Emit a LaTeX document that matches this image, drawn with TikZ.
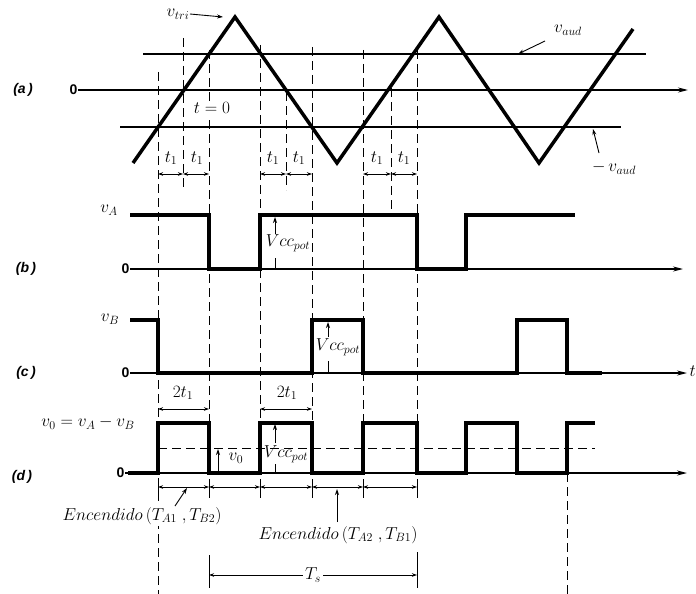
\documentclass[tikz,border=0pt]{standalone}
\usepackage{fontspec}
\setsansfont{Liberation Sans}
\DeclareMathSizes{16}{16}{12}{9}
\usetikzlibrary{arrows.meta}
\begin{document}
\begin{tikzpicture}[x=1pt,y=-1pt,
  sig/.style={line width=3.2pt, line join=miter},
  tri/.style={line width=3.5pt, line join=miter},
  thinln/.style={line width=1.3pt},
  axis/.style={line width=1.5pt, -{Stealth[length=10pt,width=5pt]}},
  guide/.style={line width=0.9pt, dash pattern=on 9pt off 5pt},
  dim/.style={line width=0.9pt, {Stealth[length=5pt,width=3.5pt]}-{Stealth[length=5pt,width=3.5pt]}},
  uparr/.style={line width=0.9pt, -{Stealth[length=6pt,width=4pt]}},
  tick/.style={line width=0.9pt},
  lbl/.style={inner sep=0.5pt, font=\fontsize{16}{18}\selectfont},
  panel/.style={inner sep=0pt, font=\sffamily\bfseries\itshape\fontsize{14}{16}\selectfont},
  zero/.style={inner sep=0.5pt, font=\sffamily\bfseries\fontsize{14}{16}\selectfont}
]
\useasboundingbox (0,0) rectangle (696,594);

% ---------- vertical dashed guides ----------
\foreach \x/\a/\b in {158/72/594, 183/38/190, 209/50/423, 260/45/423, 286/92/190,
                      312/47/423, 363/50/423, 391/88/213, 417/50/423, 567/473/594}
  \draw[guide] (\x,\a) -- (\x,\b);

% ---------- (a) ----------
\node[panel] (pa) at (23,90) {(a\,)};
\node[zero, anchor=east] (za) at (78,90) {0};
\draw[axis] (za.east) -- (688,90);
\draw[thinln] (143,54) -- (646,54);
\draw[thinln] (120,127) -- (621,127);
\draw[tri] (133,163) -- (235,17) -- (337,163) -- (439,17) -- (539,163) -- (633,29);

\node[lbl] (vtri) at (178,14) {$v_{tri}$};
\coordinate (peak1) at (223,17);
\draw[uparr] (vtri.east) -- (peak1);

\node[lbl] (vaud) at (568,30) {$v_{aud}$};
\coordinate (vaudS) at (545,41);
\coordinate (vaudT) at (518,54);
\draw[uparr] (vaudS) -- (vaudT);

\node[lbl] (mvaud) at (614,168) {$-\,v_{aud}$};
\coordinate (mvS) at (599,153);
\coordinate (mvT) at (593,129);
\draw[uparr] (mvS) -- (mvT);

\node[lbl, fill=white, inner sep=1pt] (tz) at (212,108) {$t=0$};

\foreach \x [count=\i] in {171,197,273,299,377,404}
  \node[lbl] (tone\i) at (\x,158) {$t_1$};
\foreach \p/\q in {158/183,183/209,260/286,286/312,363/391,391/417}
  \draw[dim] (\p,174) -- (\q,174);

% ---------- (b) ----------
\node[panel] (pb) at (26,269) {(b\,)};
\node[zero, anchor=east] (zb) at (130,269) {0};
\draw[axis] (zb.east) -- (683,269);
\node[lbl] (vA) at (109,210) {$v_A$};
\draw[sig] (130,215) -- (209,215) -- (209,269) -- (260,269) -- (260,215) -- (417,215)
  -- (417,269) -- (466,269) -- (466,215) -- (575,215);
\node[lbl] (vccb) at (288,243) {$Vcc_{pot}$};
\coordinate (vbS) at (275,234);
\coordinate (vbT) at (275,217);
\draw[uparr] (vbS) -- (vbT);
\draw[tick] (275,258) -- (275,269);

% ---------- (c) ----------
\node[panel] (pc) at (26,373) {(c\,)};
\node[zero, anchor=east] (zc) at (130,373) {0};
\draw[axis] (zc.east) -- (687,373);
\node[lbl, anchor=west] (tc) at (689,371) {$t$};
\node[lbl] (vB) at (110,319) {$v_B$};
\draw[sig] (130,320) -- (158,320) -- (158,373) -- (312,373) -- (312,320) -- (363,320)
  -- (363,373) -- (517,373) -- (517,320) -- (567,320) -- (567,373) -- (602,373);
\node[lbl] (vccc) at (338,347) {$Vcc_{pot}$};
\coordinate (vcS) at (328,337);
\coordinate (vcT) at (328,322);
\draw[uparr] (vcS) -- (vcT);
\draw[tick] (328,361) -- (328,373);

% ---------- (d) ----------
\node[lbl] (veq) at (88,423) {$v_0=v_A-v_B$};
\node[panel] (pd) at (22,477) {(d\,)};
\node[zero, anchor=east] (zd) at (125,473) {0};
\draw[axis] (zd.east) -- (687,473);
\draw[guide] (158,448) -- (595,448);
\draw[sig] (128,473) -- (158,473) -- (158,423) -- (209,423) -- (209,473) -- (260,473)
  -- (260,423) -- (312,423) -- (312,473) -- (363,473) -- (363,423) -- (417,423)
  -- (417,473) -- (466,473) -- (466,423) -- (517,423) -- (517,473) -- (567,473)
  -- (567,423) -- (595,423);

\node[lbl] (tt1) at (183,393) {$2t_1$};
\node[lbl] (tt2) at (287,393) {$2t_1$};
\draw[dim] (158,409) -- (209,409);
\draw[dim] (260,409) -- (312,409);

\coordinate (v0S) at (218,472);
\coordinate (v0T) at (218,449);
\draw[uparr] (v0S) -- (v0T);
\node[lbl] (v0l) at (236,458) {$v_0$};

\node[lbl] (vccd) at (286,454) {$Vcc_{pot}$};
\coordinate (vdS) at (275,443);
\coordinate (vdT) at (275,424);
\draw[uparr] (vdS) -- (vdT);
\draw[tick] (275,464) -- (275,473);

\foreach \x in {158,209,260,312,363,417}
  \draw[tick] (\x,479) -- (\x,498);
\foreach \p/\q in {158/209,209/260,260/312,312/363,363/417}
  \draw[dim] (\p,487) -- (\q,487);

\node[lbl, fill=white, inner sep=1pt] (encA) at (142,516) {$Encendido\,(T_{A1}\;,T_{B2})$};
\coordinate (eaS) at (175,506);
\coordinate (eaT) at (187,488);
\draw[uparr] (eaS) -- (eaT);

\node[lbl] (encB) at (338,535) {$Encendido\,(T_{A2}\;,T_{B1})$};
\coordinate (ebS) at (337,522);
\coordinate (ebT) at (337,489);
\draw[uparr] (ebS) -- (ebT);

\draw[tick] (209,555) -- (209,588);
\draw[tick] (417,552) -- (417,588);
\draw[dim] (209,575) -- (417,575);
\node[lbl, fill=white, inner sep=2pt, font=\fontsize{18}{20}\selectfont] (Ts) at (313,575) {$T_s$};
\end{tikzpicture}
\end{document}
